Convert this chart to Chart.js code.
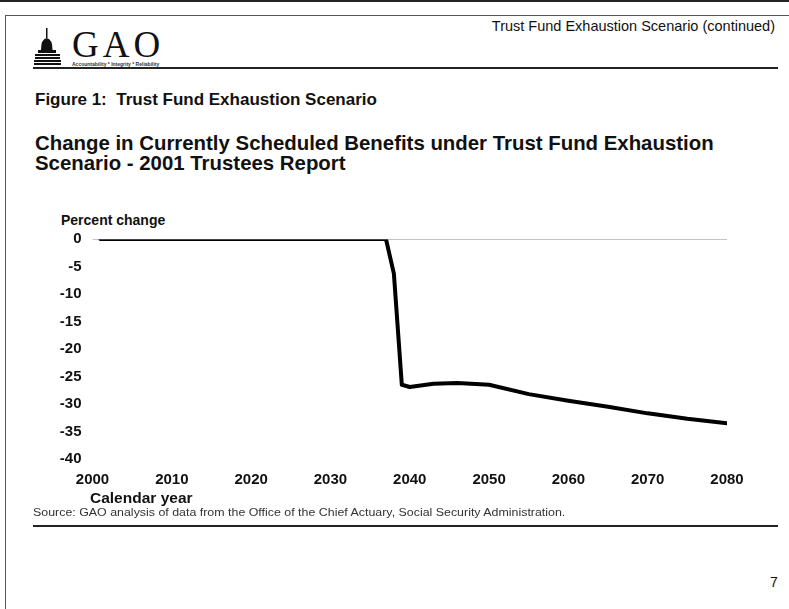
<!DOCTYPE html>
<html>
<head>
<meta charset="utf-8">
<title>Trust Fund Exhaustion Scenario</title>
<script src="https://cdn.jsdelivr.net/npm/chart.js@4/dist/chart.umd.min.js"></script>
<style>
  body { margin: 0; background: #fff; font-family: "Liberation Sans", Arial, sans-serif; color: #111; }
  #page { position: relative; width: 789px; height: 609px; overflow: hidden; }
  .rule { position: absolute; background: #222; }
  .txt { position: absolute; white-space: nowrap; }
  #gao { position: absolute; left: 72px; top: 23px; font-family: "Liberation Serif", "DejaVu Serif", serif; font-size: 37px; letter-spacing: 4px; color: #111; }
  #motto { position: absolute; left: 72px; top: 61px; font-size: 5px; font-weight: bold; color: #333; }
  .title { font-weight: bold; font-size: 17px; }
  .subtitle { font-weight: bold; font-size: 20.4px; }
  #chartBox { position: absolute; left: 40px; top: 200px; width: 720px; height: 320px; }
</style>
</head>
<body>
<div id="page">
  <div class="rule" style="left:0;top:0;width:789px;height:2px;"></div>
  <div class="rule" style="left:5px;top:15px;width:784px;height:1px;background:#555;"></div>
  <div class="rule" style="left:5px;top:15px;width:1px;height:594px;background:#555;"></div>

  <svg style="position:absolute;left:33px;top:28px;" width="30" height="42" viewBox="0 0 30 42">
    <rect x="13" y="0" width="1.5" height="10" fill="#111"/>
    <path d="M8 22 Q8 11 13.7 10 Q19.5 11 19.5 22 Z" fill="#111"/>
    <rect x="5" y="22" width="18" height="3" fill="#111"/>
    <rect x="2" y="26" width="25" height="2" fill="#111"/>
    <rect x="2" y="29" width="25" height="2" fill="#111"/>
    <rect x="1" y="32" width="27" height="2" fill="#111"/>
    <rect x="1" y="35" width="27" height="2" fill="#111"/>
  </svg>
  <div id="gao">GAO</div>
  <div id="motto">Accountability * Integrity * Reliability</div>
  <div class="txt" style="right:14px;top:18px;font-size:14.5px;">Trust Fund Exhaustion Scenario (continued)</div>
  <div class="rule" style="left:33px;top:67px;width:745px;height:2px;"></div>

  <div class="txt title" style="left:35px;top:90px;">Figure 1:&nbsp; Trust Fund Exhaustion Scenario</div>
  <div class="txt subtitle" style="left:35px;top:132px;">Change in Currently Scheduled Benefits under Trust Fund Exhaustion</div>
  <div class="txt subtitle" style="left:35px;top:152px;">Scenario - 2001 Trustees Report</div>

  <div class="txt" style="left:61px;top:212px;font-weight:bold;font-size:14px;">Percent change</div>
  <div id="chartBox"><canvas id="chart"></canvas></div>
  <div class="txt" style="left:90px;top:489px;font-weight:bold;font-size:15.5px;">Calendar year</div>

  <div class="txt" style="left:33px;top:507px;font-size:10px;color:#333;transform:scaleX(1.24);transform-origin:0 0;">Source: GAO analysis of data from the Office of the Chief Actuary, Social Security Administration.</div>
  <div class="rule" style="left:33px;top:525px;width:745px;height:2px;"></div>
  <div class="txt" style="left:770px;top:574px;font-size:14px;">7</div>
</div>
<script>
// percent change in scheduled benefits, read at selected years
const years = [2001, 2037, 2038, 2039, 2040, 2043, 2046, 2050, 2055, 2060, 2065, 2070, 2075, 2080];
const pctChange = [0, 0, -6.3, -26.5, -26.9, -26.3, -26.2, -26.5, -28.2, -29.4, -30.5, -31.7, -32.7, -33.5];
const baseYears = [2000, 2080];
const baseValues = [0, 0];
const yTicks = [0, -5, -10, -15, -20, -25, -30, -35, -40];

const toPoints = (xs, ys) => xs.map((x, i) => ({ x: x, y: ys[i] }));
const tickFont = { family: '"Liberation Sans", Arial, sans-serif', size: 15, weight: 'bold' };

new Chart(document.getElementById('chart'), {
    type: 'line',
    data: {
        datasets: [
            {
                label: 'Zero',
                data: toPoints(baseYears, baseValues),
                borderColor: '#8a8a8a',
                borderWidth: 1,
                pointRadius: 0
            },
            {
                label: 'Change in scheduled benefits',
                data: toPoints(years, pctChange),
                borderColor: '#000',
                borderWidth: 4,
                pointRadius: 0,
                tension: 0,
                borderJoinStyle: 'round',
                borderCapStyle: 'round'
            }
        ]
    },
    options: {
        responsive: true,
        maintainAspectRatio: false,
        animation: false,
        layout: { padding: { left: 0, right: 33, top: 39, bottom: 30 } },
        plugins: { legend: { display: false }, tooltip: { enabled: false } },
        scales: {
            x: {
                type: 'linear',
                min: 2000,
                max: 2080,
                grid: { display: false, drawTicks: false },
                border: { display: false },
                ticks: { stepSize: 10, padding: 12, color: '#111', font: tickFont, callback: (v) => String(v) },
                afterFit: (s) => { s.height = 31; }
            },
            y: {
                min: -40,
                max: 0,
                grid: { display: false, drawTicks: false },
                border: { display: false },
                afterBuildTicks: (s) => { s.ticks = yTicks.map(v => ({ value: v })); },
                ticks: { padding: 11, color: '#111', font: tickFont },
                afterFit: (s) => { s.width = 52.5; }
            }
        }
    }
});
</script>
</body>
</html>
